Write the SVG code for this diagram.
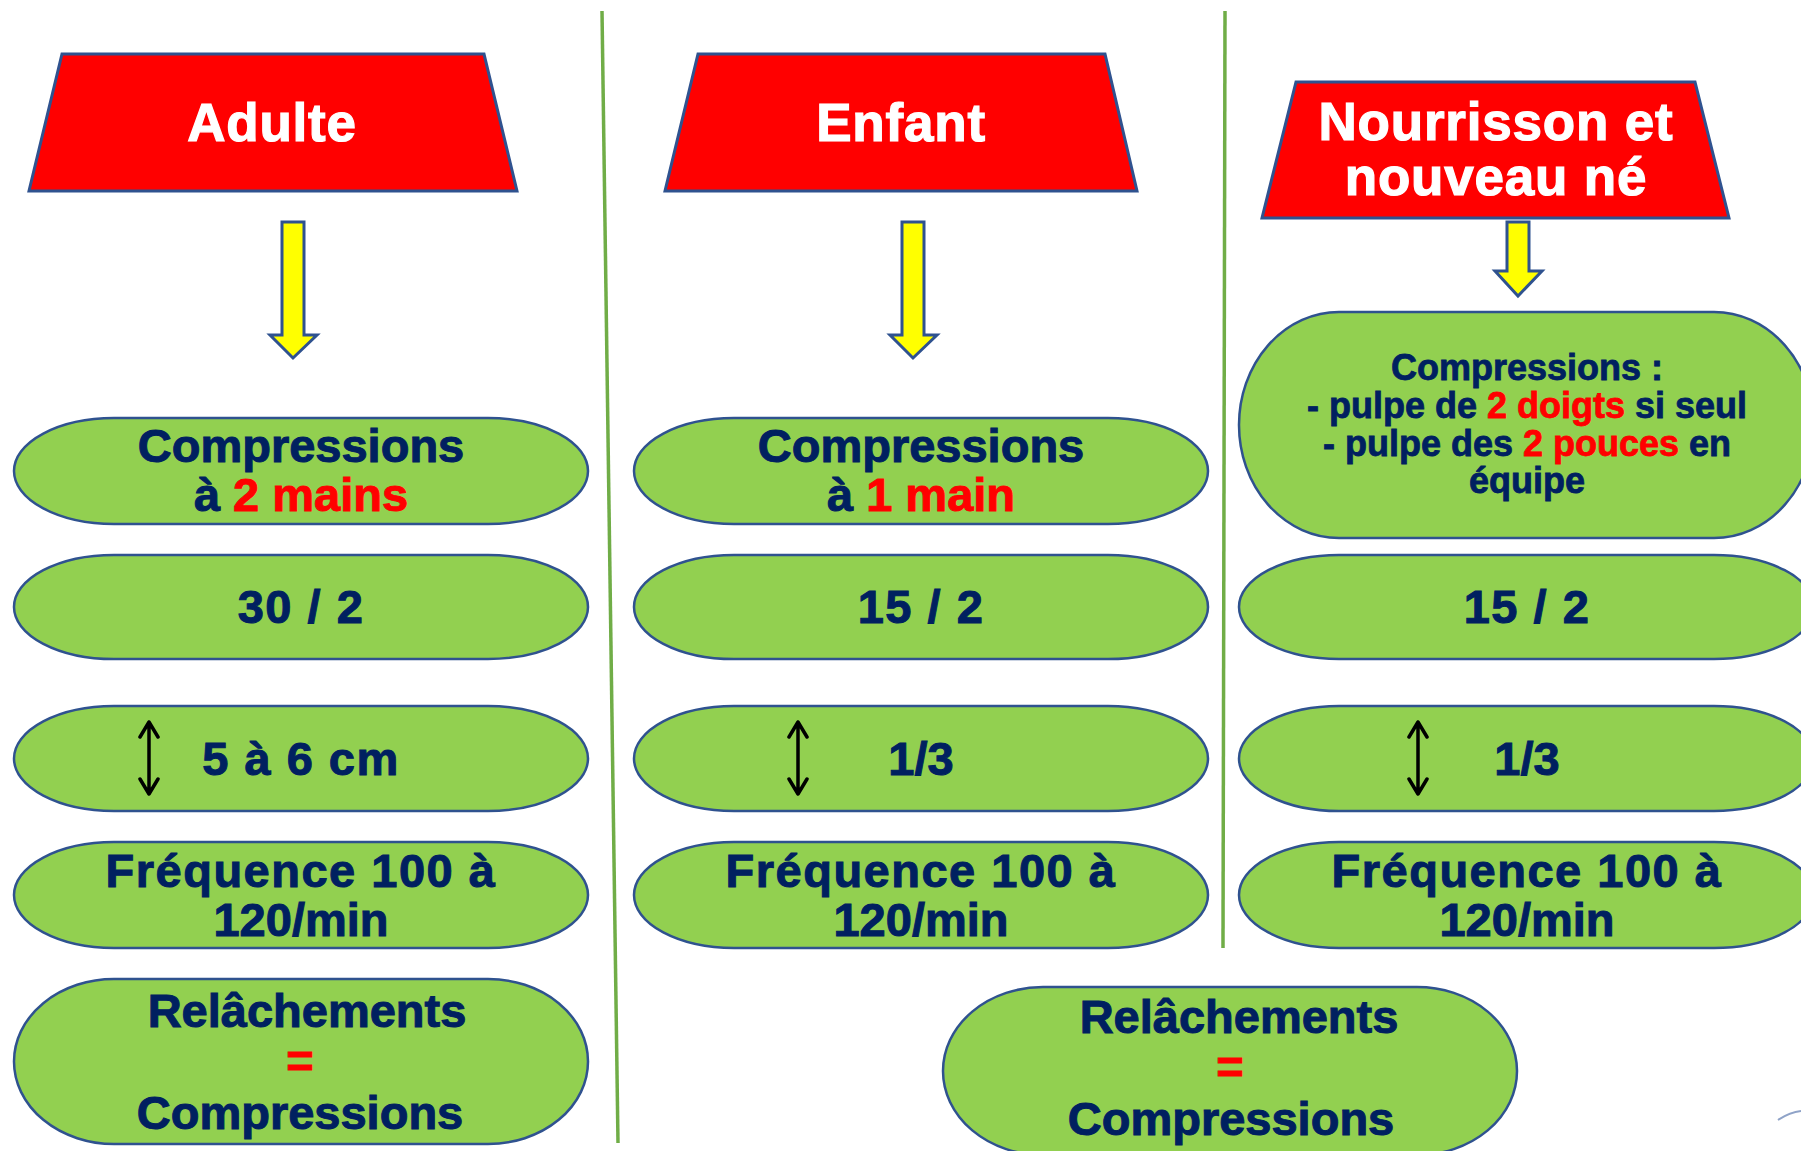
<svg xmlns="http://www.w3.org/2000/svg" width="1801" height="1151" viewBox="0 0 1801 1151">
<style>
.hdr{fill:#FF0000;stroke:#2F528F;stroke-width:3;stroke-linejoin:miter}
.arr{fill:#FFFF00;stroke:#2F528F;stroke-width:3;stroke-linejoin:miter}
.box{fill:#92D050;stroke:#2F528F;stroke-width:2.5}
.div{stroke:#70AD47;stroke-width:3.5;fill:none}
.dbl{stroke:#000;stroke-width:3.5;fill:none;stroke-linecap:round;stroke-linejoin:round}
text{font-family:"Liberation Sans",Arial,sans-serif;font-weight:bold;text-anchor:middle}
.ht{fill:#FFFFFF;stroke:#FFFFFF;stroke-width:1.2;font-size:53px;letter-spacing:0.8px}
.t{fill:#002060;stroke:#002060;stroke-width:1;font-size:47px}
.ts{fill:#002060;stroke:#002060;stroke-width:0.8;font-size:36px}
.w{letter-spacing:1.5px}
.r{fill:#FF0000;stroke:#FF0000}
</style>
<rect width="1801" height="1151" fill="#FFFFFF"/>
<g id="dividers">
<line class="div" x1="602" y1="11" x2="618" y2="1143"/>
<line class="div" x1="1225" y1="11" x2="1223" y2="948"/>
</g>
<g id="connectors">
<path class="arr" d="M282,222 H304 V335 H317 L293,358 L270,335 H282 Z"/>
<path class="arr" d="M902,222 H924 V335 H937 L913,358 L890,335 H902 Z"/>
<path class="arr" d="M1507,222 H1529 V271 H1542 L1518,296 L1495,271 H1507 Z"/>
</g>
<g id="adulte">
<polygon class="hdr" points="62,54 484,54 517,191 29,191"/>
<text class="ht" x="272" y="141">Adulte</text>
</g>
<g id="enfant">
<polygon class="hdr" points="698,54 1105,54 1137,191 665,191"/>
<text class="ht" x="901" y="141">Enfant</text>
</g>
<g id="nourrisson">
<polygon class="hdr" points="1296,82 1695,82 1729,218 1262,218"/>
<text class="ht" x="1496" y="140">Nourrisson et</text>
<text class="ht" x="1496" y="195">nouveau né</text>
</g>
<g id="a-compressions">
<rect class="box" x="14" y="418" width="574" height="106" rx="100" ry="53"/>
<text class="t" x="301" y="462">Compressions</text>
<text class="t" x="301" y="511">à <tspan class="r">2 mains</tspan></text>
</g>
<g id="a-ratio">
<rect class="box" x="14" y="555" width="574" height="104" rx="100" ry="52"/>
<text class="t w" x="301" y="623">30 / 2</text>
</g>
<g id="a-depth">
<rect class="box" x="14" y="706" width="574" height="105" rx="100" ry="52.5"/>
<path class="dbl" d="M149,722 V794 M140,737 L149,722 L158,737 M140,779 L149,794 L158,779"/>
<text class="t w" x="301" y="775">5 à 6 cm</text>
</g>
<g id="a-freq">
<rect class="box" x="14" y="842" width="574" height="106" rx="100" ry="53"/>
<text class="t w" x="301" y="887">Fréquence 100 à</text>
<text class="t" x="301" y="936">120/min</text>
</g>
<g id="a-relach">
<rect class="box" x="14" y="979" width="574" height="165" rx="100" ry="82.5"/>
<text class="t" x="307" y="1027">Relâchements</text>
<text class="t r" x="300" y="1077">=</text>
<text class="t" x="300" y="1129">Compressions</text>
</g>
<g id="e-compressions">
<rect class="box" x="634" y="418" width="574" height="106" rx="100" ry="53"/>
<text class="t" x="921" y="462">Compressions</text>
<text class="t" x="921" y="511">à <tspan class="r">1 main</tspan></text>
</g>
<g id="e-ratio">
<rect class="box" x="634" y="555" width="574" height="104" rx="100" ry="52"/>
<text class="t w" x="921" y="623">15 / 2</text>
</g>
<g id="e-depth">
<rect class="box" x="634" y="706" width="574" height="105" rx="100" ry="52.5"/>
<path class="dbl" d="M798,722 V794 M789,737 L798,722 L807,737 M789,779 L798,794 L807,779"/>
<text class="t" x="921" y="775">1/3</text>
</g>
<g id="e-freq">
<rect class="box" x="634" y="842" width="574" height="106" rx="100" ry="53"/>
<text class="t w" x="921" y="887">Fréquence 100 à</text>
<text class="t" x="921" y="936">120/min</text>
</g>
<g id="n-compressions">
<rect class="box" x="1239" y="312" width="575" height="226" rx="100" ry="113"/>
<text class="ts" x="1527" y="380">Compressions :</text>
<text class="ts" x="1527" y="418">- pulpe de <tspan class="r">2 doigts</tspan> si seul</text>
<text class="ts" x="1527" y="456">- pulpe des <tspan class="r">2 pouces</tspan> en</text>
<text class="ts" x="1527" y="493">équipe</text>
</g>
<g id="n-ratio">
<rect class="box" x="1239" y="555" width="575" height="104" rx="100" ry="52"/>
<text class="t w" x="1527" y="623">15 / 2</text>
</g>
<g id="n-depth">
<rect class="box" x="1239" y="706" width="575" height="105" rx="100" ry="52.5"/>
<path class="dbl" d="M1418,722 V794 M1409,737 L1418,722 L1427,737 M1409,779 L1418,794 L1427,779"/>
<text class="t" x="1527" y="775">1/3</text>
</g>
<g id="n-freq">
<rect class="box" x="1239" y="842" width="575" height="106" rx="100" ry="53"/>
<text class="t w" x="1527" y="887">Fréquence 100 à</text>
<text class="t" x="1527" y="936">120/min</text>
</g>
<g id="relach-shared">
<rect class="box" x="943" y="987" width="574" height="168" rx="100" ry="84"/>
<text class="t" x="1239" y="1033">Relâchements</text>
<text class="t r" x="1230" y="1083">=</text>
<text class="t" x="1231" y="1135">Compressions</text>
</g>
<path d="M1778,1120 Q1790,1112 1801,1111" stroke="#8FA3C8" stroke-width="2" fill="none"/>
</svg>
